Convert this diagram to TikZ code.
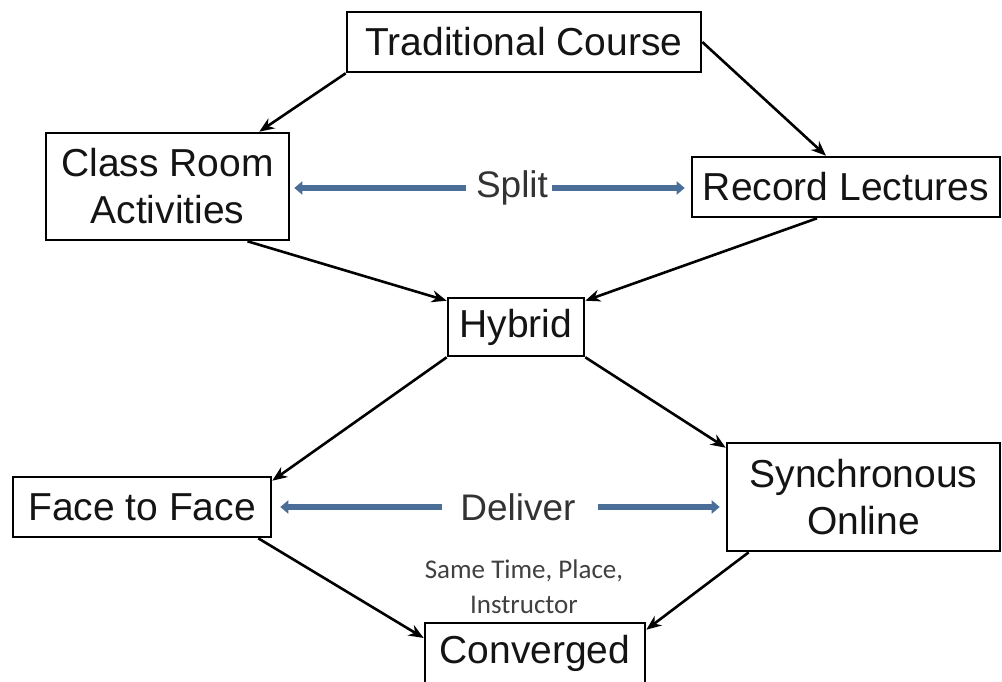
\documentclass[tikz,border=0pt]{standalone}
\usepackage{fontspec}
\setmainfont{Liberation Sans}
\newfontfamily\notefont{Carlito}
\usetikzlibrary{arrows.meta,calc}

\definecolor{splitblue}{RGB}{74,110,152}
\definecolor{inkgray}{RGB}{20,20,20}

\begin{document}
\begin{tikzpicture}[x=1pt, y=-1pt,
    box/.style = {draw, line width=2.6pt, inner sep=0pt, text=inkgray, align=center,
                  font=\fontsize{39}{47}\selectfont},
    link/.style = {draw, line width=2.6pt, -{Stealth[length=15pt,width=12pt]}},
    bluelink/.style = {draw, splitblue, line width=5.5pt, -{Triangle[length=8pt,width=13pt]}},
    midlabel/.style = {text=black!80, inner sep=0pt, font=\fontsize{37}{40}\selectfont}]
            \useasboundingbox (0,0) rectangle (1002,682);
            % boxes
            \node[box, minimum width=354pt, minimum height=60pt](tc)at(524,42){Traditional Course};
            \node[box, minimum width=243pt, minimum height=107pt](cr)at(167.5,186.5){Class Room\\Activities};
            \node[box, minimum width=308pt, minimum height=60pt](rl)at(846,187){Record Lectures};
            \node[box, minimum width=136pt, minimum height=58pt](hy)at(516,327){Hybrid};
            \node[box, minimum width=258pt, minimum height=60pt](ff)at(142,507){Face to Face};
            \node[box, minimum width=273pt, minimum height=108pt](so)at(863.5,497){Synchronous\\Online};
            \node[box, minimum width=220pt, minimum height=60pt](cv)at(535,653){Converged};
            % split / deliver
            \node[midlabel](split)at(512,188){Split};
            \node[midlabel](deliver)at(518,507){Deliver};
            \node[text=black!75, align=center, font=\notefont\fontsize{27}{35}\selectfont](same)at(524,587){Same Time, Place,\\Instructor};
            \path[bluelink, shorten >=4pt]([xshift=-10pt]split.west)to(cr.east |- split.west);
            \path[bluelink, shorten >=6pt]([xshift=4pt]split.east)to(rl.west |- split.east);
            \path[bluelink, shorten >=8pt]([xshift=-18pt]deliver.west)to(ff.east |- deliver.west);
            \path[bluelink, shorten >=6pt]([xshift=22pt]deliver.east)to(so.west |- deliver.east);
            % flow
            \path[link](tc.south west)to([xshift=-31pt]cr.north east);
            \path[link](tc.east)to([xshift=-20pt]rl.north);
            \path[link]([xshift=80pt]cr.south)to([yshift=-4pt]hy.north west);
            \path[link]([xshift=-29pt]rl.south)to([yshift=-4pt]hy.north east);
            \path[link](hy.south west)to([yshift=-5pt]ff.north east);
            \path[link](hy.south east)to([yshift=-6pt]so.north west);
            \path[link]([xshift=-14pt]ff.south east)to([yshift=15pt]cv.west);
            \path[link]([xshift=23pt]so.south west)to([yshift=-8pt]cv.north east);
        \end{tikzpicture}
\end{document}
